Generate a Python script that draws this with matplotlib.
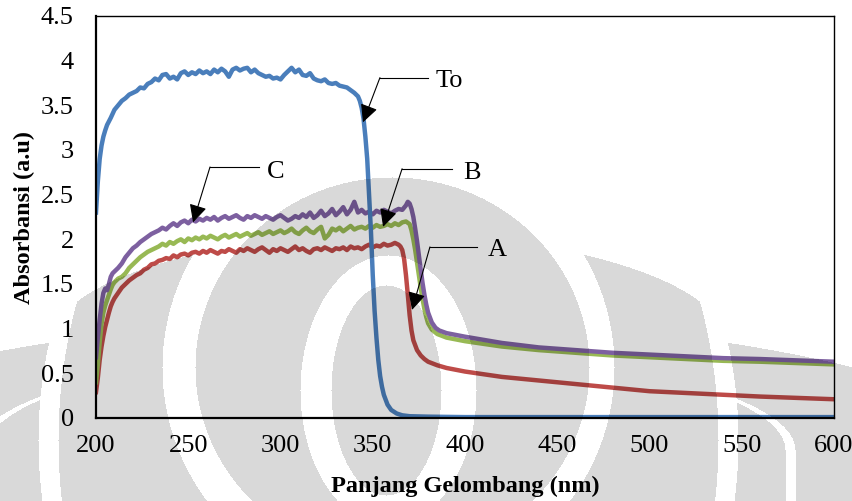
import numpy as np
import matplotlib
matplotlib.use("Agg")
import matplotlib.pyplot as plt

# ---- data ----
rise_nm = [200, 201, 202, 203, 204, 205, 206, 207, 208, 209]

to_nm = [200, 201, 202, 203, 204, 205, 206, 208] + list(range(210, 342, 2)) + \
    [342, 343, 344, 345, 346, 347, 348, 349, 350, 351, 352, 353, 354, 355, 356,
     358, 360, 363, 366, 370, 380, 400, 450, 500, 550, 600]
to_abs = [2.30, 2.65, 2.90, 3.05, 3.15, 3.22, 3.28, 3.36,
          3.45, 3.50, 3.55, 3.58, 3.62, 3.64, 3.66, 3.70, 3.69, 3.74,
          3.76, 3.80, 3.78, 3.84, 3.85, 3.80, 3.82, 3.79, 3.86, 3.88,
          3.84, 3.87, 3.85, 3.89, 3.86, 3.88, 3.85, 3.90, 3.87, 3.91,
          3.88, 3.82, 3.90, 3.92, 3.89, 3.91, 3.92, 3.87, 3.90, 3.86,
          3.84, 3.82, 3.83, 3.80, 3.81, 3.79, 3.84, 3.88, 3.92, 3.87,
          3.90, 3.84, 3.83, 3.86, 3.80, 3.78, 3.77, 3.79, 3.75, 3.74,
          3.75, 3.72, 3.71, 3.70, 3.67, 3.64,
          3.60, 3.55, 3.47, 3.35, 3.15, 2.90, 2.50, 2.10, 1.60, 1.20, 0.90, 0.65, 0.47,
          0.35, 0.26, 0.15, 0.09, 0.05, 0.03, 0.02, 0.015, 0.01, 0.01, 0.01, 0.01, 0.01]

a_nm = rise_nm + list(range(210, 366, 2)) + \
    [365, 366, 367, 368, 369, 370, 371, 372, 374, 376, 378, 380, 385, 390, 400,
     420, 440, 460, 480, 500, 520, 540, 560, 580, 600]
a_abs = [0.29, 0.45, 0.65, 0.80, 0.92, 1.02, 1.10, 1.18, 1.25, 1.30,
         1.34, 1.40, 1.46, 1.50, 1.54, 1.57, 1.60, 1.62, 1.66, 1.68,
         1.72, 1.73, 1.76, 1.77, 1.79, 1.78, 1.82, 1.80, 1.83, 1.84,
         1.82, 1.85, 1.86, 1.84, 1.87, 1.85, 1.88, 1.86, 1.84, 1.87,
         1.86, 1.89, 1.87, 1.85, 1.89, 1.87, 1.90, 1.88, 1.86, 1.89,
         1.91, 1.88, 1.85, 1.89, 1.87, 1.90, 1.88, 1.86, 1.89, 1.92,
         1.88, 1.90, 1.87, 1.85, 1.89, 1.90, 1.88, 1.91, 1.89, 1.87,
         1.90, 1.89, 1.91, 1.88, 1.92, 1.90, 1.91, 1.89, 1.92, 1.94,
         1.91, 1.93, 1.92, 1.95, 1.93, 1.94, 1.96, 1.94,
         1.92, 1.88, 1.78, 1.60, 1.38, 1.15, 0.98, 0.87, 0.76, 0.70, 0.66, 0.63,
         0.59, 0.56, 0.52, 0.46, 0.42, 0.38, 0.34, 0.30, 0.28, 0.26, 0.24, 0.225, 0.21]

b_nm = rise_nm + list(range(210, 370, 2)) + \
    [370, 371, 372, 373, 374, 375, 376, 377, 378, 379, 380, 382, 385, 390, 400,
     420, 440, 460, 480, 500, 520, 540, 560, 580, 600]
b_abs = [0.40, 0.60, 0.85, 1.05, 1.18, 1.26, 1.32, 1.38, 1.44, 1.49,
         1.52, 1.56, 1.58, 1.62, 1.68, 1.72, 1.76, 1.80, 1.83, 1.86,
         1.88, 1.90, 1.92, 1.95, 1.93, 1.97, 1.95, 1.98, 2.00, 1.97,
         2.01, 1.99, 2.02, 2.00, 2.03, 2.01, 2.04, 2.02, 2.00, 2.03,
         2.05, 2.02, 2.04, 2.06, 2.03, 2.05, 2.07, 2.04, 2.06, 2.08,
         2.05, 2.07, 2.09, 2.06, 2.08, 2.10, 2.07, 2.09, 2.12, 2.08,
         2.06, 2.10, 2.13, 2.09, 2.07, 2.11, 2.14, 2.01, 2.05, 2.12,
         2.10, 2.13, 2.09, 2.12, 2.15, 2.11, 2.13, 2.14, 2.12, 2.15,
         2.13, 2.16, 2.14, 2.15, 2.17, 2.15, 2.18, 2.16, 2.19, 2.20,
         2.17, 2.10, 2.00, 1.88, 1.74, 1.60, 1.46, 1.33, 1.22, 1.13, 1.06, 0.99,
         0.94, 0.90, 0.86, 0.80, 0.76, 0.73, 0.70, 0.68, 0.66, 0.64, 0.63, 0.615, 0.60]

c_nm = rise_nm + list(range(210, 370, 2)) + \
    [369, 370, 371, 372, 373, 374, 375, 376, 377, 378, 379, 380, 382, 384, 386,
     390, 400, 420, 440, 460, 480, 500, 520, 540, 560, 580, 600]
c_abs = [0.68, 0.90, 1.10, 1.28, 1.40, 1.45, 1.43, 1.50, 1.58, 1.62,
         1.64, 1.68, 1.73, 1.80, 1.85, 1.90, 1.93, 1.97, 2.00, 2.03,
         2.06, 2.08, 2.10, 2.13, 2.11, 2.15, 2.18, 2.15, 2.19, 2.21,
         2.18, 2.22, 2.20, 2.23, 2.21, 2.24, 2.22, 2.25, 2.21, 2.24,
         2.26, 2.23, 2.25, 2.27, 2.24, 2.22, 2.26, 2.24, 2.27, 2.25,
         2.23, 2.26, 2.24, 2.22, 2.25, 2.27, 2.24, 2.21, 2.23, 2.26,
         2.24, 2.28, 2.25, 2.30, 2.24, 2.27, 2.32, 2.26, 2.29, 2.34,
         2.27, 2.31, 2.36, 2.28, 2.33, 2.42, 2.30, 2.33, 2.29, 2.31,
         2.28, 2.32, 2.30, 2.33, 2.31, 2.29, 2.32, 2.34, 2.33, 2.38,
         2.42, 2.40, 2.34, 2.25, 2.12, 1.98, 1.82, 1.66, 1.51, 1.38, 1.27, 1.18,
         1.07, 1.01, 0.98, 0.95, 0.91, 0.84, 0.79, 0.76, 0.73, 0.71, 0.69, 0.67,
         0.66, 0.645, 0.63]

# callout labels: text, arrow tip, elbow, end of horizontal leader
labels = ["To", "B", "A", "C"]
tips = [(344.7, 3.31), (355.6, 2.14), (371.3, 1.21), (252.6, 2.19)]
elbows = [(353.9, 3.81), (365.9, 2.79), (381.0, 1.915), (261.8, 2.81)]
leader_end = [379.9, 392.9, 406.5, 288.3]
text_pos = [(384.3, 3.77), (398.9, 2.74), (412.5, 1.88), (292.7, 2.75)]

plt.rcParams["font.family"] = ["Liberation Serif", "DejaVu Serif"]

fig = plt.figure(figsize=(8.53, 5.01), dpi=100)
ax = fig.add_axes([96 / 853, 83 / 501, 738 / 853, 402 / 501])
ax.set_facecolor("none")

lw = 3.2
ax.plot(a_nm, a_abs, color="#BE4B48", lw=lw, solid_joinstyle="round")
ax.plot(b_nm, b_abs, color="#98B954", lw=lw, solid_joinstyle="round")
ax.plot(c_nm, c_abs, color="#7D60A0", lw=lw, solid_joinstyle="round")
ax.plot(to_nm, to_abs, color="#4A7EBB", lw=lw, solid_joinstyle="round")

for lab, tip, elb, xe, tp in zip(labels, tips, elbows, leader_end, text_pos):
    ax.plot([elb[0], xe], [elb[1], elb[1]], color="black", lw=0.8)
    ax.annotate("", xy=tip, xytext=elb,
                arrowprops=dict(arrowstyle="-|>,head_length=0.6,head_width=0.3",
                                color="black", lw=0.8, mutation_scale=18,
                                shrinkA=0, shrinkB=0))
    ax.text(tp[0], tp[1], lab, fontsize=19, ha="left", va="center")

ax.set_xlim(200, 600)
ax.set_ylim(0, 4.5)
ax.set_xticks([200, 250, 300, 350, 400, 450, 500, 550, 600])
ax.set_yticks([0, 0.5, 1, 1.5, 2, 2.5, 3, 3.5, 4, 4.5])
ax.set_yticklabels(["0", "0.5", "1", "1.5", "2", "2.5", "3", "3.5", "4", "4.5"])
ax.tick_params(length=0, labelsize=19)
ax.tick_params(axis="y", pad=16)
ax.tick_params(axis="x", pad=12)
for sp in ax.spines.values():
    sp.set_color("black")
    sp.set_linewidth(1.0)
ax.spines["left"].set_linewidth(1.6)
ax.spines["bottom"].set_linewidth(1.6)

ax.set_xlabel("Panjang Gelombang (nm)", fontsize=17.5, fontweight="bold")
ax.set_ylabel("Absorbansi (a.u)", fontsize=17.5, fontweight="bold")
ax.xaxis.set_label_coords(0.501, -0.143)
ax.yaxis.set_label_coords(-0.083, 0.5)

# faint watermark (oval logo) laid over everything like the scanned original
H, W = 501, 853
yy, xx = np.mgrid[0:H, 0:W]


def oval(cx, cy, a, b):
    return ((xx - cx) / a) ** 2 + ((yy - cy) / b) ** 2 <= 1


def arch(cx, w, ys, b):
    # straight sides below ys, elliptical cap of height b above it
    side = np.abs(xx - cx) <= w
    return side & ((yy >= ys) | oval(cx, ys, w, b))


outer = oval(388, 512, 700, 194) & ~oval(388, 440, 350, 400)
outer &= ~(arch(385, 410, 450, 100) & ~arch(385, 400, 450, 100))
ring = arch(388, 340, 346, 112) & oval(388, 440, 330, 420) & ~oval(388, 367, 226, 224)
core = oval(392, 367, 197, 190)
core &= ~(oval(388, 390, 88, 135) & ~oval(386, 390, 55, 105))
shade = outer | ring | core
wm = np.zeros((H, W, 4))
wm[..., 3] = np.where(shade, 0.15, 0.0)
fig.figimage(wm, xo=0, yo=0, origin="upper", zorder=10)

fig.savefig("out.png", dpi=100)
